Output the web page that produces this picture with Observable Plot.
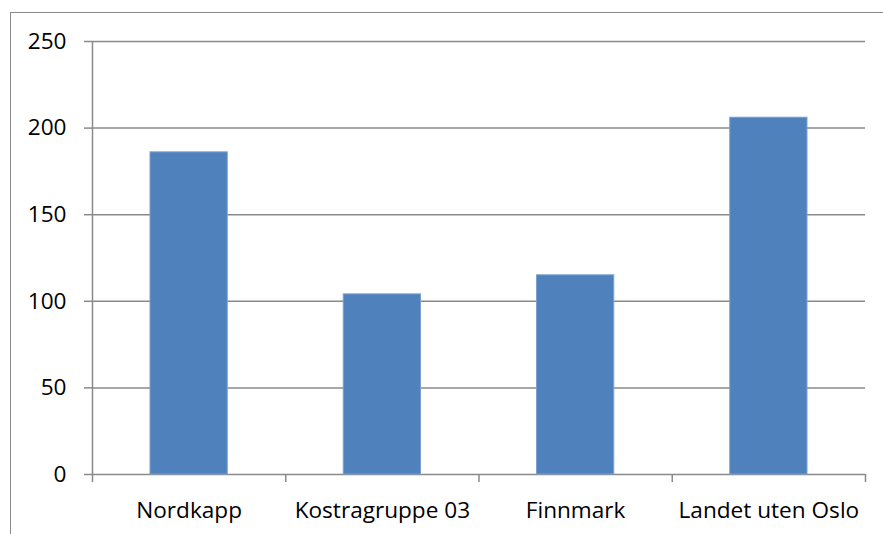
<!DOCTYPE html>
<html>
<head>
<meta charset="utf-8">
<script src="https://cdn.jsdelivr.net/npm/d3@7"></script>
<script src="https://cdn.jsdelivr.net/npm/@observablehq/plot@0.6"></script>
<style>
  html, body { margin: 0; padding: 0; background: #fff; }
  #wrap { position: relative; width: 883px; height: 534px; overflow: hidden; }
  #border { position: absolute; left: 10px; top: 12px; width: 1000px; height: 1000px;
            border-left: 1.5px solid #8a8a8a; border-top: 1.5px solid #8a8a8a; }
  #chart { position: absolute; left: 0; top: 0; }
</style>
</head>
<body>
<div id="wrap"><div id="border"></div><div id="chart"></div></div>
<script>
const categories = ["Nordkapp", "Kostragruppe 03", "Finnmark", "Landet uten Oslo"];
const values = [186, 104, 115, 206];
const yTicks = [0, 50, 100, 150, 200, 250];

const data = categories.map((c, i) => ({category: c, i, value: values[i]}));
const gridColor = "#8a8a8a";

const chart = Plot.plot({
  width: 883,
  height: 534,
  marginLeft: 92,
  marginRight: 18,
  marginTop: 41,
  marginBottom: 60,
  style: {fontFamily: "'Open Sans', sans-serif", fontSize: "22.6px", color: "#000", background: "transparent"},
  x: {type: "linear", domain: [0, categories.length]},
  y: {domain: [0, 250]},
  marks: [
    Plot.ruleY(yTicks, {stroke: gridColor, strokeWidth: 1.5}),
    Plot.ruleX([0], {stroke: gridColor, strokeWidth: 1.5}),
    Plot.rectY(data, {
      x1: "i", x2: d => d.i + 1, y: "value",
      insetLeft: 58, insetRight: 58,
      fill: "#4F81BD", stroke: "#7BA0CF", strokeWidth: 1
    }),
    Plot.axisY(yTicks, {
      anchor: "left", tickSize: 8, tickPadding: 18, stroke: gridColor, strokeWidth: 1.5,
      fill: "#000", label: null, tickFormat: d => String(d)
    }),
    Plot.axisX(d3.range(categories.length + 1), {
      anchor: "bottom", tickSize: 8, tickFormat: () => "", stroke: gridColor, strokeWidth: 1.5, label: null
    }),
    Plot.axisX(categories.map((c, i) => i + 0.5), {
      anchor: "bottom", tickSize: 0, tickPadding: 27, fill: "#000", label: null,
      tickFormat: d => categories[Math.floor(d)]
    })
  ]
});
document.getElementById("chart").appendChild(chart);
</script>
</body>
</html>
